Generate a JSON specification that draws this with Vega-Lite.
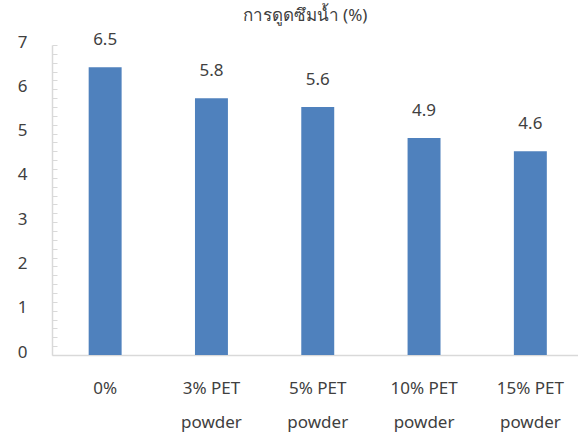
{
  "$schema": "https://vega.github.io/schema/vega-lite/v6.json",
  "autosize": "none",
  "padding": {"left": 52, "top": 45, "right": 0, "bottom": 81},
  "width": 526,
  "height": 310,
  "background": "white",
  "title": {
    "text": "การดูดซึมน้ำ (%)",
    "anchor": "middle",
    "dx": -10,
    "offset": 6,
    "fontSize": 17,
    "fontWeight": "normal",
    "color": "#404040",
    "font": "Noto Sans, sans-serif"
  },
  "config": {
    "view": {"stroke": null},
    "font": "Noto Sans, sans-serif"
  },
  "data": {
    "values": [
      {"sample": "0%", "absorption": 6.5},
      {"sample": "3% PET powder", "absorption": 5.8},
      {"sample": "5% PET powder", "absorption": 5.6},
      {"sample": "10% PET powder", "absorption": 4.9},
      {"sample": "15% PET powder", "absorption": 4.6}
    ]
  },
  "encoding": {
    "x": {
      "field": "sample",
      "type": "nominal",
      "sort": null,
      "scale": {"range": [0, 531.5], "paddingInner": 0.69, "paddingOuter": 0.345},
      "axis": {
        "title": null,
        "labelAngle": 0,
        "ticks": false,
        "domainColor": "#D9D9D9",
        "domainWidth": 1.5,
        "labelFontSize": 17,
        "labelColor": "#404040",
        "labelPadding": 25,
        "labelLineHeight": 34,
        "labelBaseline": "top",
        "labelExpr": "indexof(datum.label, ' powder') > 0 ? [replace(datum.label, ' powder', ''), 'powder'] : datum.label"
      }
    },
    "y": {
      "field": "absorption",
      "type": "quantitative",
      "scale": {"domain": [0, 7], "nice": false},
      "axis": {
        "title": null,
        "grid": false,
        "values": [0, 0.2, 0.4, 0.6, 0.8, 1, 1.2, 1.4, 1.6, 1.8, 2, 2.2, 2.4, 2.6, 2.8, 3, 3.2, 3.4, 3.6, 3.8, 4, 4.2, 4.4, 4.6, 4.8, 5, 5.2, 5.4, 5.6, 5.8, 6, 6.2, 6.4, 6.6, 6.8, 7],
        "labelExpr": "abs(datum.value - round(datum.value)) < 0.01 ? format(datum.value, 'd') : ''",
        "tickSize": -5,
        "tickColor": "#D9D9D9",
        "domainColor": "#D9D9D9",
        "domainWidth": 1.5,
        "labelPadding": 30,
        "labelOffset": -3,
        "labelFontSize": 17,
        "labelColor": "#404040"
      }
    }
  },
  "layer": [
    {"mark": {"type": "bar", "color": "#4F81BD"}},
    {
      "mark": {"type": "text", "baseline": "alphabetic", "dy": -22, "fontSize": 17, "color": "#404040"},
      "encoding": {"text": {"field": "absorption", "type": "quantitative", "format": ".1f"}}
    }
  ]
}
